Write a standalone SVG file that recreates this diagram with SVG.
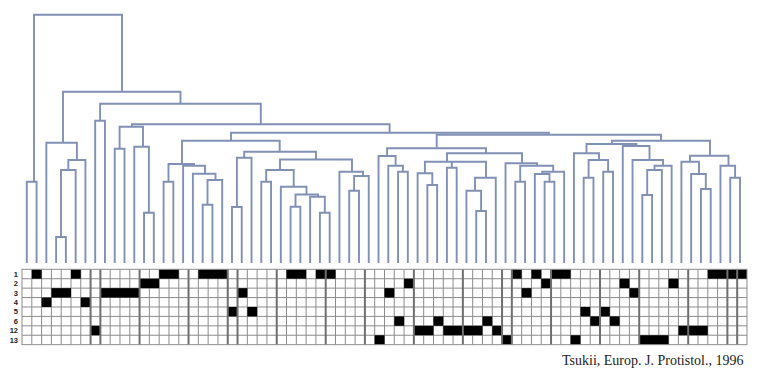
<svg xmlns="http://www.w3.org/2000/svg" width="763" height="374" viewBox="0 0 763 374">
<style>
.d{fill:none;stroke:#8190b5;stroke-width:1.9;stroke-linejoin:miter}
.thin{fill:none;stroke:#8c8c8c;stroke-width:1}
.thick{fill:none;stroke:#6f6f6f;stroke-width:2}
.cell{fill:#000}
.lbl{font-family:"Liberation Sans",Arial,sans-serif;font-size:7.5px;font-weight:bold;fill:#222;text-anchor:end}
.cap{font-family:"Liberation Serif","Times New Roman",serif;font-size:14px;fill:#222}
</style>
<rect width="763" height="374" fill="#fff"/>
<g id="connectors">
<path id="root" class="d" d="M34 181.7V14.7H122V91.7"/>
<path id="n01" class="d" d="M26.8 263V181.7H36.57V263"/>
<path id="n2_73" class="d" d="M63 142.7V91.7H180.5V103.7"/>
<path id="nB" class="d" d="M46.34 263V142.7H76.9V160"/>
<path id="n3456" class="d" d="M68.3 170V160H85.42V263"/>
<path id="n345" class="d" d="M61 237V170H75.65V263"/>
<path id="n34" class="d" d="M56.11 263V237H65.88V263"/>
<path id="n7_73" class="d" d="M100.1 120.7V103.7H260.8V124.3"/>
<path id="n78" class="d" d="M95.19 263V120.7H104.96V263"/>
<path id="n9_73" class="d" d="M132 126.7V124.3H389.6V132.7"/>
<path id="nC" class="d" d="M119.6 148.7V126.7H143V146.7"/>
<path id="n910" class="d" d="M114.73 263V148.7H124.5V263"/>
<path id="n11_13" class="d" d="M134.27 263V146.7H148.9V212.7"/>
<path id="n1213" class="d" d="M144.04 263V212.7H153.81V263"/>
<path id="n14_73" class="d" d="M231 140.7V132.7H548.9V134.7"/>
<path id="n14_35" class="d" d="M182 164V140.7H279.7V151.7"/>
<path id="n14_20" class="d" d="M168.5 181.7V164H194V165.7"/>
<path id="n1415" class="d" d="M163.58 263V181.7H173.35V263"/>
<path id="n16_20" class="d" d="M183.12 263V165.7H205V173.7"/>
<path id="n17_20" class="d" d="M192.89 263V173.7H215.5V180"/>
<path id="n18_20" class="d" d="M207.5 204.7V180H222.2V263"/>
<path id="n1819" class="d" d="M202.66 263V204.7H212.43V263"/>
<path id="n21_35" class="d" d="M244.2 157.7V151.7H316V159.5"/>
<path id="n21_23" class="d" d="M236.9 207V157.7H251.51V263"/>
<path id="n2122" class="d" d="M231.97 263V207H241.74V263"/>
<path id="n24_35" class="d" d="M280 170V159.5H352V171.7"/>
<path id="n24_31" class="d" d="M266.2 181.7V170H293.7V186.7"/>
<path id="n2425" class="d" d="M261.28 263V181.7H271.05V263"/>
<path id="n26_31" class="d" d="M280.82 263V186.7H306.5V194.5"/>
<path id="n27_31" class="d" d="M295.5 206.7V194.5H318V196.7"/>
<path id="n2728" class="d" d="M290.59 263V206.7H300.36V263"/>
<path id="n29_31" class="d" d="M310.13 263V196.7H324.8V212.7"/>
<path id="n3031" class="d" d="M319.9 263V212.7H329.67V263"/>
<path id="n32_35" class="d" d="M339.44 263V171.7H363V176"/>
<path id="n33_35" class="d" d="M354.1 190.7V176H368.75V263"/>
<path id="n3334" class="d" d="M349.21 263V190.7H358.98V263"/>
<path id="n36_73" class="d" d="M436.7 148.3V134.7H661V140.7"/>
<path id="n36_55" class="d" d="M387.1 156V148.3H486V153.3"/>
<path id="n36_39" class="d" d="M378.52 263V156H395.6V165.7"/>
<path id="n37_39" class="d" d="M388.29 263V165.7H402.9V171.7"/>
<path id="n3839" class="d" d="M398.06 263V171.7H407.83V263"/>
<path id="n40_55" class="d" d="M447 161.7V153.3H522V163.3"/>
<path id="n40_48" class="d" d="M424.9 173.3V161.7H486V177.7M451.8 161.7V167.7"/>
<path id="n40_42" class="d" d="M417.6 263V173.3H432.3V185"/>
<path id="n4142" class="d" d="M427.37 263V185H437.14V263"/>
<path id="n4344" class="d" d="M446.91 263V167.7H456.68V263"/>
<path id="n45_48" class="d" d="M475 190.7V177.7H495.76V263"/>
<path id="n45_47" class="d" d="M466.45 263V190.7H481.1V211"/>
<path id="n4647" class="d" d="M476.22 263V211H485.99V263"/>
<path id="n49_55" class="d" d="M505.53 263V163.3H537V165.7"/>
<path id="n50_55" class="d" d="M520.2 181.7V165.7H553.2V171.7"/>
<path id="n5051" class="d" d="M515.3 263V181.7H525.07V263"/>
<path id="n52_55" class="d" d="M542.2 174V171.7H564.15V263"/>
<path id="n52_54" class="d" d="M534.84 263V174H549.5V181.7"/>
<path id="n5354" class="d" d="M544.61 263V181.7H554.38V263"/>
<path id="n56_73" class="d" d="M612 144V140.7H710V155.7"/>
<path id="n56_66" class="d" d="M586.5 153.3V144H636.5V146"/>
<path id="n56_60" class="d" d="M573.92 263V153.3H599V160"/>
<path id="n57_60" class="d" d="M588.6 177.7V160H608.1V171.7"/>
<path id="n5758" class="d" d="M583.69 263V177.7H593.46V263"/>
<path id="n5960" class="d" d="M603.23 263V171.7H613V263"/>
<path id="n61_66" class="d" d="M622.77 263V146H649.5V160"/>
<path id="n62_66" class="d" d="M632.54 263V160H663.1V165.7"/>
<path id="n63_66" class="d" d="M654.5 170V165.7H671.62V263"/>
<path id="n63_65" class="d" d="M647.2 195V170H661.85V263"/>
<path id="n6364" class="d" d="M642.31 263V195H652.08V263"/>
<path id="n67_73" class="d" d="M690 161.7V155.7H728.5V165.7"/>
<path id="n67_70" class="d" d="M681.39 263V161.7H699V174"/>
<path id="n68_70" class="d" d="M691.16 263V174H705.8V189"/>
<path id="n6970" class="d" d="M700.93 263V189H710.7V263"/>
<path id="n71_73" class="d" d="M720.47 263V165.7H735.1V177.7"/>
<path id="n7273" class="d" d="M730.24 263V177.7H740.01V263"/>
</g>
<g id="grid">
<rect x="22" y="269.3" width="724.98" height="75.36" fill="#fff"/>
<path class="thin" d="M31.8 269.3v75.36M41.59 269.3v75.36M51.39 269.3v75.36M61.19 269.3v75.36M70.99 269.3v75.36M80.78 269.3v75.36M110.17 269.3v75.36M119.97 269.3v75.36M129.77 269.3v75.36M149.36 269.3v75.36M159.16 269.3v75.36M168.96 269.3v75.36M178.75 269.3v75.36M198.35 269.3v75.36M208.14 269.3v75.36M217.94 269.3v75.36M247.33 269.3v75.36M257.13 269.3v75.36M266.93 269.3v75.36M286.52 269.3v75.36M296.32 269.3v75.36M306.11 269.3v75.36M315.91 269.3v75.36M335.5 269.3v75.36M345.3 269.3v75.36M355.1 269.3v75.36M374.69 269.3v75.36M384.49 269.3v75.36M394.29 269.3v75.36M404.08 269.3v75.36M423.68 269.3v75.36M433.47 269.3v75.36M443.27 269.3v75.36M453.07 269.3v75.36M472.66 269.3v75.36M482.46 269.3v75.36M492.26 269.3v75.36M521.65 269.3v75.36M531.44 269.3v75.36M541.24 269.3v75.36M560.83 269.3v75.36M570.63 269.3v75.36M580.43 269.3v75.36M590.23 269.3v75.36M609.82 269.3v75.36M619.62 269.3v75.36M629.41 269.3v75.36M649.01 269.3v75.36M658.81 269.3v75.36M668.6 269.3v75.36M678.4 269.3v75.36M697.99 269.3v75.36M707.79 269.3v75.36M717.59 269.3v75.36M22 278.72H746.98M22 288.14H746.98M22 297.56H746.98M22 306.98H746.98M22 316.4H746.98M22 325.82H746.98M22 335.24H746.98"/>
<g id="cells" class="cell">
<rect x="31.8" y="269.3" width="9.8" height="9.42"/>
<rect x="70.99" y="269.3" width="9.8" height="9.42"/>
<rect x="159.16" y="269.3" width="19.6" height="9.42"/>
<rect x="198.35" y="269.3" width="29.39" height="9.42"/>
<rect x="286.52" y="269.3" width="19.6" height="9.42"/>
<rect x="315.91" y="269.3" width="19.6" height="9.42"/>
<rect x="511.85" y="269.3" width="9.8" height="9.42"/>
<rect x="531.44" y="269.3" width="9.8" height="9.42"/>
<rect x="551.04" y="269.3" width="19.6" height="9.42"/>
<rect x="707.79" y="269.3" width="39.19" height="9.42"/>
<rect x="139.56" y="278.72" width="19.6" height="9.42"/>
<rect x="404.08" y="278.72" width="9.8" height="9.42"/>
<rect x="541.24" y="278.72" width="9.8" height="9.42"/>
<rect x="619.62" y="278.72" width="9.8" height="9.42"/>
<rect x="668.6" y="278.72" width="9.8" height="9.42"/>
<rect x="51.39" y="288.14" width="19.6" height="9.42"/>
<rect x="100.38" y="288.14" width="39.19" height="9.42"/>
<rect x="237.53" y="288.14" width="9.8" height="9.42"/>
<rect x="384.49" y="288.14" width="9.8" height="9.42"/>
<rect x="521.65" y="288.14" width="9.8" height="9.42"/>
<rect x="629.41" y="288.14" width="9.8" height="9.42"/>
<rect x="41.59" y="297.56" width="9.8" height="9.42"/>
<rect x="80.78" y="297.56" width="9.8" height="9.42"/>
<rect x="227.74" y="306.98" width="9.8" height="9.42"/>
<rect x="247.33" y="306.98" width="9.8" height="9.42"/>
<rect x="580.43" y="306.98" width="9.8" height="9.42"/>
<rect x="600.02" y="306.98" width="9.8" height="9.42"/>
<rect x="394.29" y="316.4" width="9.8" height="9.42"/>
<rect x="433.47" y="316.4" width="9.8" height="9.42"/>
<rect x="482.46" y="316.4" width="9.8" height="9.42"/>
<rect x="590.23" y="316.4" width="9.8" height="9.42"/>
<rect x="609.82" y="316.4" width="9.8" height="9.42"/>
<rect x="90.58" y="325.82" width="9.8" height="9.42"/>
<rect x="413.88" y="325.82" width="19.6" height="9.42"/>
<rect x="443.27" y="325.82" width="39.19" height="9.42"/>
<rect x="492.26" y="325.82" width="9.8" height="9.42"/>
<rect x="678.4" y="325.82" width="29.39" height="9.42"/>
<rect x="374.69" y="335.24" width="9.8" height="9.42"/>
<rect x="502.05" y="335.24" width="9.8" height="9.42"/>
<rect x="570.63" y="335.24" width="9.8" height="9.42"/>
<rect x="639.21" y="335.24" width="29.39" height="9.42"/>
</g>
<path class="thick" d="M90.58 269.3v75.36M100.38 269.3v75.36M139.56 269.3v75.36M188.55 269.3v75.36M227.74 269.3v75.36M237.53 269.3v75.36M276.72 269.3v75.36M325.71 269.3v75.36M364.9 269.3v75.36M413.88 269.3v75.36M462.87 269.3v75.36M502.05 269.3v75.36M511.85 269.3v75.36M551.04 269.3v75.36M600.02 269.3v75.36M639.21 269.3v75.36M688.2 269.3v75.36M727.38 269.3v75.36M737.18 269.3v75.36"/>
<rect class="thin" x="22" y="269.3" width="724.98" height="75.36"/>
</g>
<g id="row-labels">
<text class="lbl" x="18" y="276.7">1</text>
<text class="lbl" x="18" y="286.1">2</text>
<text class="lbl" x="18" y="295.5">3</text>
<text class="lbl" x="18" y="305">4</text>
<text class="lbl" x="18" y="314.4">5</text>
<text class="lbl" x="18" y="323.8">6</text>
<text class="lbl" x="18" y="333.2">12</text>
<text class="lbl" x="18" y="342.6">13</text>
</g>
<text id="caption" class="cap" x="562" y="365">Tsukii, Europ. J. Protistol., 1996</text>
</svg>
